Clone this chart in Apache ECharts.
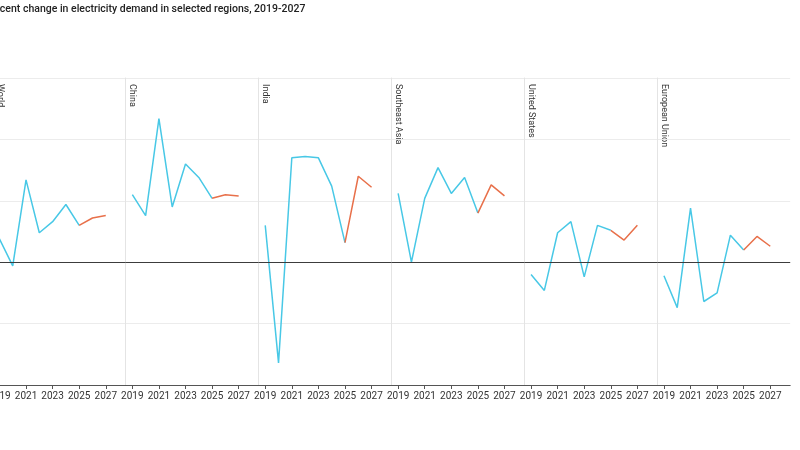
<!DOCTYPE html>
<html>
<head>
<meta charset="utf-8">
<script src="https://cdn.jsdelivr.net/npm/echarts@6/dist/echarts.min.js"></script>
<style>
  html, body { margin: 0; padding: 0; background: #fff; }
  #chart { width: 800px; height: 450px; }
</style>
</head>
<body>
<div id="chart"></div>
<script>
// percent change in electricity demand, 2019-2027 (2025 onward = forecast)
var years = [2019, 2020, 2021, 2022, 2023, 2024, 2025, 2026, 2027];
var tickYears = [2019, 2021, 2023, 2025, 2027];
var regions = ['World', 'China', 'India', 'Southeast Asia', 'United States', 'European Union'];

var world = [1.9, -0.3, 6.7, 2.4, 3.3, 4.7, 3.0, 3.6, 3.8];
var china = [5.5, 3.8, 11.7, 4.5, 8.0, 6.9, 5.2, 5.5, 5.4];
var india = [3.0, -8.2, 8.5, 8.6, 8.5, 6.2, 1.6, 7.0, 6.1];
var seAsia = [5.6, 0.0, 5.2, 7.7, 5.6, 6.9, 4.0, 6.3, 5.4];
var us = [-1.0, -2.3, 2.4, 3.3, -1.2, 3.0, 2.6, 1.8, 3.0];
var eu = [-1.1, -3.7, 4.4, -3.2, -2.5, 2.2, 1.0, 2.1, 1.3];

var values = [world, china, india, seAsia, us, eu];
var forecastFrom = 2025;

var myChart = echarts.init(document.getElementById('chart'));

var panelW = 132.9;
var firstLeft = -7.2;
var grids = [], xAxes = [], yAxes = [], series = [], labels = [];

regions.forEach(function (name, i) {
    var left = firstLeft + panelW * i;
    grids.push({ left: left, width: panelW, top: 78, height: 307, outerBoundsMode: 'none', containLabel: false });

    xAxes.push({
        type: 'value', gridIndex: i,
        min: 2018.5, max: 2028.5,
        axisLine: { show: true, onZero: false, lineStyle: { color: '#555', width: 1 } },
        axisTick: { show: true, customValues: tickYears, length: 4, lineStyle: { color: '#555' } },
        axisLabel: { customValues: tickYears, fontSize: 10, color: '#333', margin: 6,
                     fontFamily: 'Roboto', formatter: function (v) { return String(v); } },
        splitLine: { show: false }
    });
    yAxes.push({
        type: 'value', gridIndex: i,
        min: -10, max: 15, interval: 5,
        axisLine: { show: true, lineStyle: { color: '#e4e4e4' } },
        axisTick: { show: false },
        axisLabel: { show: false },
        splitLine: { lineStyle: { color: '#ececec' } }
    });

    var hist = [], fc = [];
    years.forEach(function (y, k) {
        if (y <= forecastFrom) hist.push([y, values[i][k]]);
        if (y >= forecastFrom) fc.push([y, values[i][k]]);
    });

    series.push({
        type: 'line', xAxisIndex: i, yAxisIndex: i,
        data: hist, showSymbol: false, z: 3,
        lineStyle: { color: '#48c8e6', width: 1.5 },
        markLine: {
            silent: true, symbol: 'none', label: { show: false },
            lineStyle: { color: '#3c3c3c', width: 1.2, type: 'solid' },
            data: [{ yAxis: 0 }]
        }
    });
    series.push({
        type: 'line', xAxisIndex: i, yAxisIndex: i,
        data: fc, showSymbol: false, z: 3,
        lineStyle: { color: '#e8704a', width: 1.5 }
    });

    labels.push({
        type: 'text',
        x: left + 2.5, y: 84,
        rotation: -Math.PI / 2,
        style: {
            text: name, fill: '#333',
            font: '9px Roboto',
            align: 'left', verticalAlign: 'bottom',
            textAlign: 'left', textVerticalAlign: 'bottom'
        }
    });
});

var option = {
    animation: false,
    title: {
        text: 'Percent change in electricity demand in selected regions, 2019-2027',
        left: -16, top: 3.5, padding: 0,
        textStyle: { fontSize: 10.5, fontWeight: 500, color: '#222', fontFamily: 'Roboto' }
    },
    grid: grids,
    xAxis: xAxes,
    yAxis: yAxes,
    series: series,
    graphic: labels
};

myChart.setOption(option);
</script>
</body>
</html>
